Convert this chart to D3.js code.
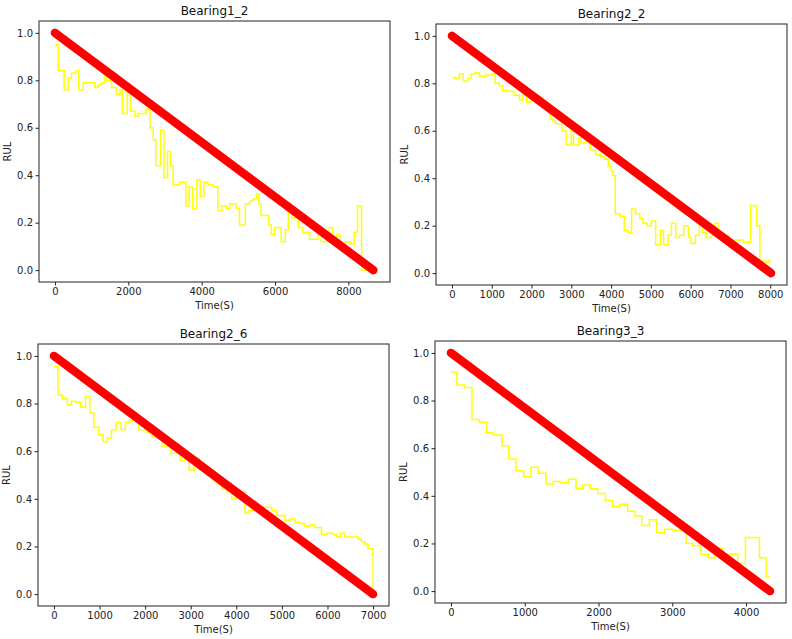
<!DOCTYPE html>
<html>
<head>
<meta charset="utf-8">
<script src="https://cdn.jsdelivr.net/npm/d3@7"></script>
<style>
  html, body { margin: 0; padding: 0; background: #fff; }
  svg { display: block; font-family: "DejaVu Sans", sans-serif; }
</style>
</head>
<body>
<svg id="chart" width="792" height="639"></svg>
<script>
// ---------------- DATA ----------------
const titles = ["Bearing1_2", "Bearing2_2", "Bearing2_6", "Bearing3_3"];
const xLabel = "Time(S)";
const yLabel = "RUL";
const yTicks = [0.0, 0.2, 0.4, 0.6, 0.8, 1.0];
const xTicks1 = [0, 2000, 4000, 6000, 8000];
const xTicks2 = [0, 1000, 2000, 3000, 4000, 5000, 6000, 7000, 8000];
const xTicks3 = [0, 1000, 2000, 3000, 4000, 5000, 6000, 7000];
const xTicks4 = [0, 1000, 2000, 3000, 4000];

// true RUL (red): start / end of each run
const true1_t = [0, 8680], true1_v = [1, 0];
const true2_t = [0, 8020], true2_v = [1, 0];
const true3_t = [0, 7000], true3_v = [1, 0];
const true4_t = [0, 4325], true4_v = [1, 0];

// predicted RUL (yellow, step): step start times (last = end time) and values
const pred1_t = [0, 90, 250, 360, 450, 570, 650, 770, 1090, 1180, 1270, 1360, 1410, 1540, 1680, 1770, 1840, 1970, 2060, 2180, 2270, 2490, 2590, 2680, 2750, 2880, 2970, 3070, 3150, 3220, 3400, 3570, 3660, 3750, 3870, 3960, 4060, 4170, 4310, 4440, 4550, 4670, 4760, 4940, 5030, 5190, 5310, 5400, 5490, 5560, 5620, 5830, 5900, 5990, 6170, 6280, 6360, 6460, 6580, 6640, 6760, 6940, 7170, 7260, 7480, 7570, 7680, 7770, 7910, 8070, 8160, 8250, 8360, 8700];
const pred1_v = [0.95, 0.84, 0.76, 0.81, 0.83, 0.84, 0.76, 0.79, 0.77, 0.78, 0.79, 0.82, 0.80, 0.77, 0.74, 0.76, 0.66, 0.76, 0.67, 0.65, 0.66, 0.68, 0.60, 0.55, 0.44, 0.59, 0.39, 0.50, 0.44, 0.36, 0.37, 0.27, 0.35, 0.26, 0.38, 0.31, 0.37, 0.36, 0.35, 0.25, 0.27, 0.26, 0.28, 0.26, 0.19, 0.28, 0.29, 0.30, 0.32, 0.28, 0.23, 0.19, 0.15, 0.18, 0.12, 0.17, 0.25, 0.22, 0.23, 0.18, 0.16, 0.13, 0.16, 0.12, 0.18, 0.13, 0.15, 0.11, 0.12, 0.11, 0.16, 0.27, 0.00];

const pred2_t = [0, 85, 185, 285, 395, 480, 590, 690, 855, 1025, 1085, 1190, 1275, 1445, 1570, 1695, 1780, 1880, 1990, 2050, 2285, 2385, 2470, 2535, 2600, 2760, 2870, 3000, 3055, 3190, 3250, 3375, 3475, 3610, 3725, 3835, 3930, 4005, 4045, 4105, 4230, 4330, 4425, 4515, 4615, 4720, 4800, 4900, 5010, 5120, 5240, 5320, 5430, 5515, 5625, 5725, 5825, 5945, 6010, 6120, 6220, 6295, 6395, 6525, 6605, 6690, 6775, 6960, 7320, 7505, 7655, 7740, 7910, 7975, 8020];
const pred2_v = [0.825, 0.82, 0.84, 0.81, 0.82, 0.84, 0.845, 0.83, 0.835, 0.84, 0.80, 0.79, 0.77, 0.765, 0.75, 0.73, 0.75, 0.72, 0.73, 0.74, 0.72, 0.70, 0.65, 0.64, 0.63, 0.60, 0.54, 0.60, 0.54, 0.57, 0.55, 0.56, 0.52, 0.50, 0.49, 0.48, 0.45, 0.43, 0.41, 0.25, 0.24, 0.18, 0.17, 0.27, 0.25, 0.23, 0.21, 0.20, 0.22, 0.12, 0.18, 0.12, 0.16, 0.21, 0.15, 0.16, 0.20, 0.15, 0.125, 0.16, 0.21, 0.17, 0.15, 0.16, 0.21, 0.17, 0.16, 0.14, 0.13, 0.285, 0.20, 0.05, 0.045, 0.055];

const pred3_t = [0, 88, 182, 292, 386, 474, 583, 693, 788, 875, 984, 1079, 1167, 1261, 1364, 1473, 1568, 1663, 1859, 2042, 2151, 2370, 2479, 2567, 2676, 2771, 2880, 2968, 3077, 3187, 3281, 3391, 3486, 3588, 3683, 3792, 3901, 3996, 4193, 4266, 4375, 4484, 4776, 4885, 5068, 5177, 5287, 5432, 5505, 5615, 5724, 5870, 5979, 6125, 6198, 6286, 6380, 6672, 6745, 6818, 6891, 7000, 7000];
const pred3_v = [0.955, 0.835, 0.82, 0.795, 0.81, 0.805, 0.785, 0.83, 0.76, 0.70, 0.67, 0.64, 0.655, 0.69, 0.72, 0.69, 0.72, 0.73, 0.69, 0.68, 0.66, 0.62, 0.64, 0.59, 0.61, 0.56, 0.58, 0.52, 0.57, 0.55, 0.53, 0.50, 0.48, 0.46, 0.44, 0.43, 0.40, 0.43, 0.34, 0.35, 0.355, 0.365, 0.35, 0.33, 0.31, 0.315, 0.30, 0.295, 0.285, 0.29, 0.28, 0.25, 0.255, 0.25, 0.24, 0.255, 0.24, 0.23, 0.22, 0.21, 0.19, 0.00];

const pred4_t = [0, 81, 181, 285, 384, 484, 574, 692, 782, 881, 985, 1085, 1184, 1288, 1388, 1482, 1591, 1695, 1785, 1889, 1989, 2093, 2192, 2292, 2395, 2495, 2585, 2689, 2789, 2893, 2997, 3186, 3277, 3390, 3489, 3571, 3684, 3774, 3887, 3991, 4181, 4271, 4325];
const pred4_v = [0.92, 0.865, 0.855, 0.72, 0.71, 0.665, 0.655, 0.61, 0.555, 0.505, 0.48, 0.52, 0.495, 0.45, 0.46, 0.455, 0.47, 0.43, 0.445, 0.43, 0.41, 0.38, 0.355, 0.365, 0.335, 0.315, 0.275, 0.30, 0.245, 0.26, 0.255, 0.20, 0.19, 0.155, 0.14, 0.18, 0.13, 0.155, 0.115, 0.225, 0.14, 0.06];

// ---------------- LAYOUT ----------------
const frames = [
  { left: 39,  top: 21,  w: 351, h: 261 },
  { left: 436, top: 24,  w: 351, h: 261 },
  { left: 38,  top: 344, w: 351, h: 262 },
  { left: 435, top: 341, w: 351, h: 262 }
];

const panels = [
  { title: titles[0], xt: xTicks1, tt: true1_t, tv: true1_v, pt: pred1_t, pv: pred1_v },
  { title: titles[1], xt: xTicks2, tt: true2_t, tv: true2_v, pt: pred2_t, pv: pred2_v },
  { title: titles[2], xt: xTicks3, tt: true3_t, tv: true3_v, pt: pred3_t, pv: pred3_v },
  { title: titles[3], xt: xTicks4, tt: true4_t, tv: true4_v, pt: pred4_t, pv: pred4_v }
];

const svg = d3.select("#chart");
const axisColor = "#222";

panels.forEach((p, i) => {
  const f = frames[i];
  const g = svg.append("g").attr("transform", `translate(${f.left},${f.top})`);
  const xmax = d3.max(p.tt.concat(p.pt));
  const x = d3.scaleLinear().domain([-0.05 * xmax, 1.05 * xmax]).range([0, f.w]);
  const y = d3.scaleLinear().domain([-0.05, 1.05]).range([f.h, 0]);

  // predicted step line
  const predPts = p.pt.map((t, k) => [t, p.pv[Math.min(k, p.pv.length - 1)]]);
  const stepLine = d3.line().x(d => x(d[0])).y(d => y(d[1])).curve(d3.curveStepAfter);
  g.append("path").datum(predPts)
    .attr("d", stepLine)
    .attr("fill", "none")
    .attr("stroke", "#ffff00")
    .attr("stroke-width", 1.5)
    .attr("stroke-linejoin", "miter");

  // true RUL thick red line
  const truePts = p.tt.map((t, k) => [t, p.tv[k]]);
  g.append("path").datum(truePts)
    .attr("d", d3.line().x(d => x(d[0])).y(d => y(d[1])))
    .attr("fill", "none")
    .attr("stroke", "#ff0000")
    .attr("stroke-width", 8.5)
    .attr("stroke-linecap", "round");

  // frame
  g.append("rect").attr("x", 0).attr("y", 0).attr("width", f.w).attr("height", f.h)
    .attr("fill", "none").attr("stroke", axisColor).attr("stroke-width", 1);

  // axes
  const xa = g.append("g").attr("transform", `translate(0,${f.h})`)
    .call(d3.axisBottom(x).tickValues(p.xt).tickFormat(d3.format("d")).tickSize(3.5).tickPadding(2));
  const ya = g.append("g")
    .call(d3.axisLeft(y).tickValues(yTicks).tickFormat(d3.format(".1f")).tickSize(3.5).tickPadding(2.5));
  [xa, ya].forEach(a => {
    a.select(".domain").remove();
    a.selectAll("line").attr("stroke", axisColor);
    a.selectAll("text").attr("fill", axisColor).style("font-size", "10px")
      .style("font-family", "'DejaVu Sans', sans-serif");
  });

  // title
  g.append("text").attr("x", f.w / 2).attr("y", -6)
    .attr("text-anchor", "middle").attr("fill", "#111")
    .style("font-size", "12px").text(p.title);

  // x label
  g.append("text").attr("x", f.w / 2).attr("y", f.h + 27)
    .attr("text-anchor", "middle").attr("fill", axisColor)
    .style("font-size", "10px").text(xLabel);

  // y label
  g.append("text")
    .attr("transform", `translate(-28,${f.h / 2}) rotate(-90)`)
    .attr("text-anchor", "middle").attr("fill", axisColor)
    .style("font-size", "10px").text(yLabel);
});
</script>
</body>
</html>
